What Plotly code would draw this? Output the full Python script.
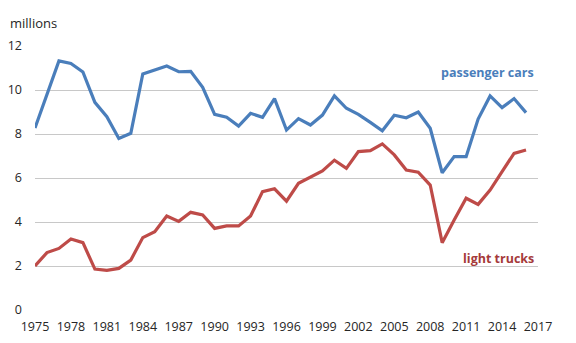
import plotly.graph_objects as go

# Annual U.S. sales, millions of vehicles
years = list(range(1975, 2017))
passenger_cars = [8.27, 9.78, 11.32, 11.21, 10.82, 9.44, 8.79, 7.80, 8.03, 10.73,
                  10.91, 11.09, 10.83, 10.85, 10.12, 8.89, 8.76, 8.36, 8.94, 8.76,
                  9.61, 8.18, 8.70, 8.41, 8.86, 9.73, 9.17, 8.89, 8.53, 8.15,
                  8.85, 8.74, 9.00, 8.26, 6.24, 6.97, 6.97, 8.68, 9.73, 9.20,
                  9.61, 8.97]
light_trucks = [2.00, 2.61, 2.80, 3.23, 3.06, 1.86, 1.80, 1.89, 2.27, 3.29,
                3.56, 4.27, 4.03, 4.44, 4.32, 3.71, 3.82, 3.82, 4.27, 5.38,
                5.51, 4.95, 5.76, 6.03, 6.32, 6.81, 6.44, 7.20, 7.24, 7.55,
                7.05, 6.36, 6.26, 5.68, 3.06, 4.09, 5.08, 4.80, 5.45, 6.29,
                7.12, 7.27]
x_ticks = list(range(1975, 2018, 3))
y_ticks = [0, 2, 4, 6, 8, 10, 12]

BLUE = "#4A7EBB"
RED = "#BE4B48"
FONT = "Open Sans"

fig = go.Figure()
fig.add_trace(go.Scatter(x=years, y=passenger_cars, mode="lines",
                         line=dict(color=BLUE, width=3.2), name="passenger cars"))
fig.add_trace(go.Scatter(x=years, y=light_trucks, mode="lines",
                         line=dict(color=RED, width=3.2), name="light trucks"))

fig.update_layout(
    width=576, height=343,
    margin=dict(l=35, r=38, t=46, b=33),
    paper_bgcolor="white", plot_bgcolor="white",
    showlegend=False,
    font=dict(family=FONT, size=12.5, color="#262626"),
    xaxis=dict(range=[1975, 2017], tickvals=x_ticks, showgrid=False,
               zeroline=False, showline=False, ticks="", ticklabelstandoff=7,
               automargin=False),
    yaxis=dict(range=[0, 12], tickvals=y_ticks, showgrid=True,
               gridcolor="#C8C8C8", gridwidth=1, zeroline=False,
               showline=False, ticks="", ticklabelstandoff=12,
               automargin=False),
    annotations=[
        dict(text="millions", xref="paper", yref="paper", x=-0.054, y=1.087,
             xanchor="left", yanchor="middle", showarrow=False,
             font=dict(family=FONT, size=13, color="#262626")),
        dict(text="<b>passenger cars</b>", xref="paper", yref="y", x=0.996, y=10.79,
             xanchor="right", yanchor="middle", showarrow=False,
             font=dict(family=FONT, size=12.5, color=BLUE)),
        dict(text="<b>light trucks</b>", xref="paper", yref="y", x=0.996, y=2.32,
             xanchor="right", yanchor="middle", showarrow=False,
             font=dict(family=FONT, size=12.5, color="#A53A3A")),
    ],
)

fig.write_html("out.html")
